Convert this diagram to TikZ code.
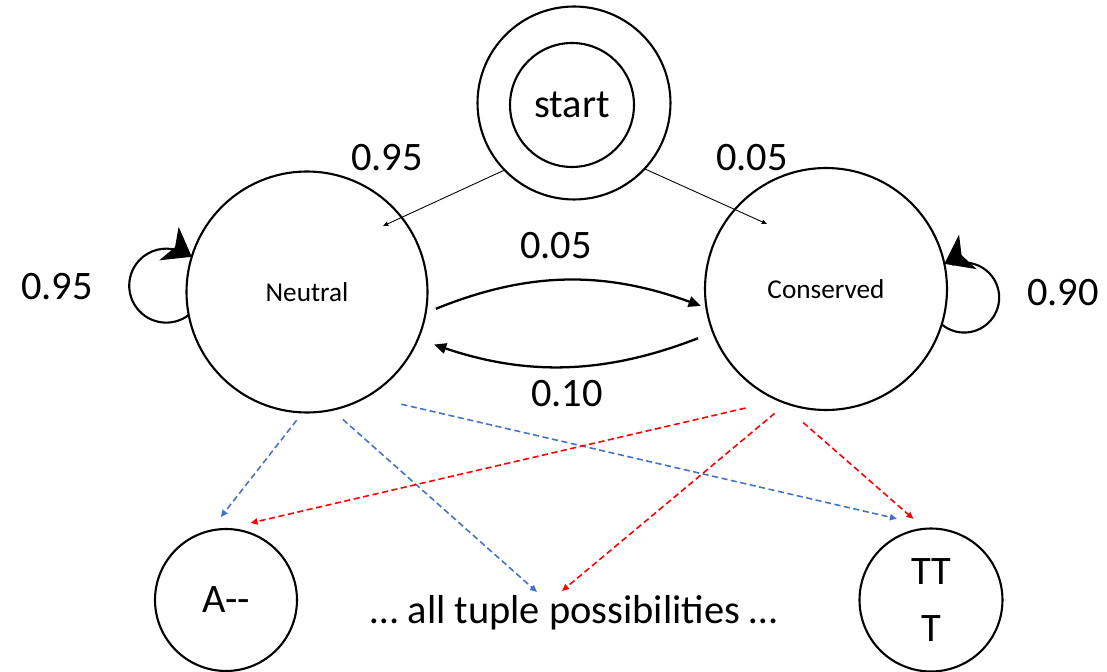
\documentclass[tikz,border=0pt]{standalone}
\usepackage{fontspec}
\setmainfont{Carlito}
\usetikzlibrary{arrows.meta}
\usetikzlibrary{calc}

\definecolor{nblue}{HTML}{4472C4}
\definecolor{cred}{HTML}{FF0000}

\begin{document}
\begin{tikzpicture}[x=0.02cm, y=-0.02cm,
    state/.style={draw, circle, line width=1.2pt, inner sep=0pt, outer sep=0pt},
    big/.style={font=\fontsize{23}{32}\selectfont},
    small/.style={font=\fontsize{15.5}{18}\selectfont},
    trans/.style={line width=1.3pt, -{Triangle[length=7pt, width=6pt]}},
    selfloop/.style={line width=1.2pt},
    loophead/.pic={\fill (0pt,0pt) -- (-15pt,11pt) -- (-11pt,0pt) -- (-15pt,-11pt) -- cycle;},
    entry/.style={line width=0.5pt, -{Triangle[length=3pt, width=2.5pt]}},
    emitN/.style={draw=nblue, line width=0.9pt, dash pattern=on 3.5pt off 2pt, -{Triangle[length=4pt, width=3.5pt]}},
    emitC/.style={draw=cred, line width=0.9pt, dash pattern=on 3.5pt off 2pt, -{Triangle[length=4pt, width=3.5pt]}}]

    \useasboundingbox (0,0) rectangle (1107,672);

    % states
    \node[state, minimum size=3.86cm] (start) at (574,103) {};
    \node[state, big, minimum size=2.48cm] (startin) at (572,105) {start};
    \node[state, small, minimum size=4.82cm] (Neutral) at (307,292) {Neutral};
    \node[state, small, minimum size=4.84cm] (Conserved) at (826,289) {Conserved};

    % emitted tuples
    \node[state, big, minimum size=2.84cm] (A) at (226,600) {A-\kern0pt-};
    \node[state, big, align=center, minimum size=2.86cm] (TT) at (931,600) {TT\\T};
    \node[big] (tuples) at (574,613) {… all tuple possibilities …};

    \coordinate (Nin) at (383,226);
    \coordinate (Cin) at (767,224);
    \coordinate (tupL) at (537,592);
    \coordinate (tupR) at (562,591);

    % probabilities
    \node[big] (pSN) at (387,158) {0.95};
    \node[big] (pSC) at (752,158) {0.05};
    \node[big] (pNN) at (57,287) {0.95};
    \node[big] (pCC) at (1063,293) {0.90};
    \node[big] (pNC) at (556,246) {0.05};
    \node[big] (pCN) at (567,394) {0.10};

    \draw[entry] (start.-136) -- (Nin);
    \draw[entry] (start.-43) -- (Cin);

    \draw[trans, shorten <=0.22cm, shorten >=0.12cm] (Neutral.-10) to[bend left=21] (Conserved.-171);
    \draw[trans, shorten <=0.32cm, shorten >=0.34cm] (Conserved.-159) to[bend left=20] (Neutral.-23);

    % self loops
    \draw[selfloop] (Neutral.191) arc[start angle=-52.5, end angle=-295, radius=0.74cm];
    \pic[rotate=-30] at (Neutral.163) {loophead};
    \draw[selfloop] (Conserved.-17) arc[start angle=230, end angle=470, radius=0.7cm];
    \pic[rotate=207] at (Conserved.12) {loophead};

    % emissions
    \draw[emitN, shorten <=0.2cm, shorten >=0.35cm] (Neutral.-92) -- (A.103);
    \draw[emitN, shorten <=0.29cm] (Neutral.-78) -- (tupL);
    \draw[emitN, shorten <=0.7cm, shorten >=1.03cm] (Neutral.-60) -- (TT.77);
    \draw[emitC, shorten <=0.68cm, shorten >=0.53cm] (Conserved.-113) -- (A.91);
    \draw[emitC, shorten <=0.31cm] (Conserved.-109) -- (tupR);
    \draw[emitC, shorten <=0.7cm, shorten >=0.3cm] (Conserved.-114) -- (TT.95);

\end{tikzpicture}
\end{document}
